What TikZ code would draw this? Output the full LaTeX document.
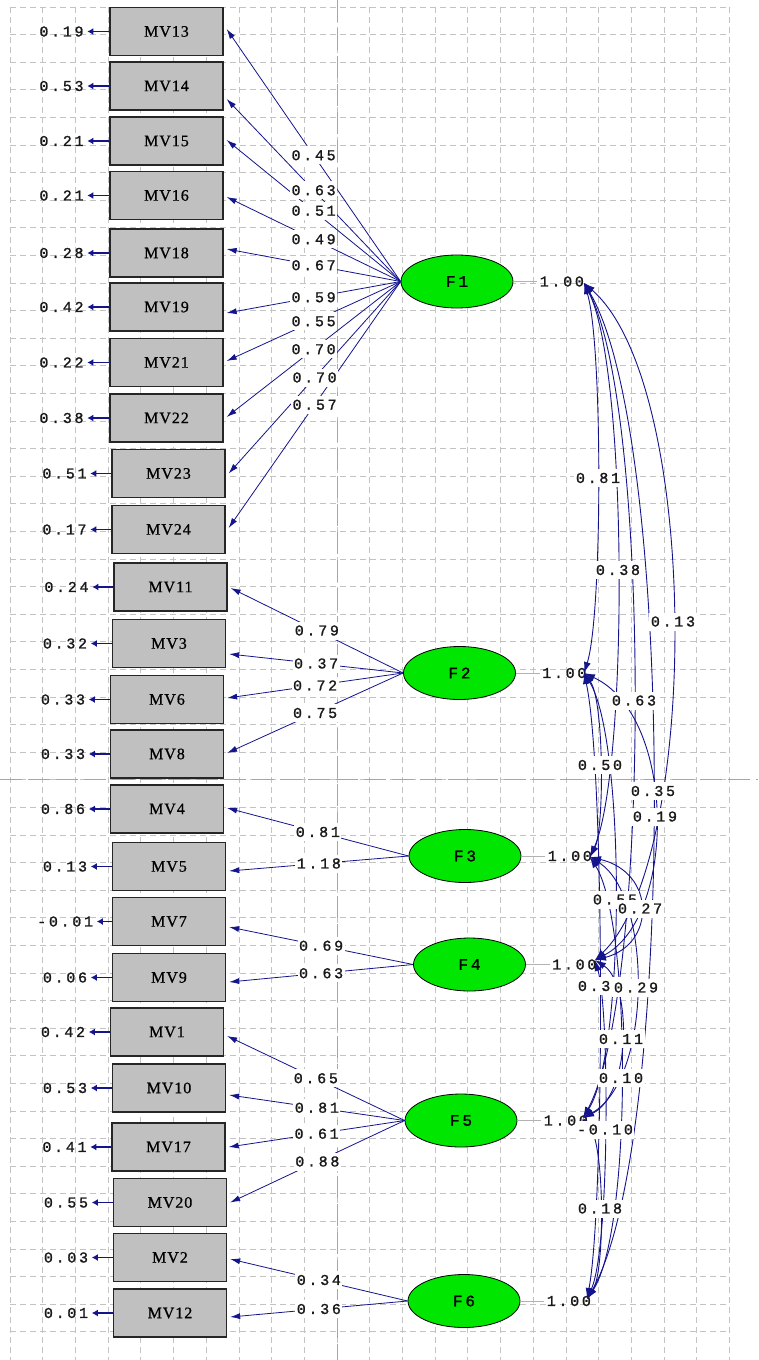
\documentclass[tikz,border=0pt]{standalone}
\usepackage{fontspec}
\usetikzlibrary{shapes.geometric,arrows.meta}
\newfontfamily\numf[LetterSpace=18,FakeBold=1.2]{Liberation Mono}
\newfontfamily\mvf[LetterSpace=6,FakeBold=0.8]{Liberation Serif}
\definecolor{navy}{RGB}{20,20,140}
\definecolor{gridc}{RGB}{195,195,195}
\definecolor{boxgray}{RGB}{192,192,192}
\definecolor{fgreen}{RGB}{0,230,0}
\begin{document}
\begin{tikzpicture}[x=1pt,y=-1pt,
 gridline/.style={gridc, line width=0.8pt, dash pattern=on 6pt off 4pt},
 pageline/.style={black!35, line width=0.8pt, dash pattern=on 22pt off 6pt},
 mv/.style={draw=black!85, line width=1.3pt, fill=boxgray, minimum width=113pt, minimum height=48pt, inner sep=0pt, font=\mvf\fontsize{16}{16}\selectfont},
 lat/.style={ellipse, draw=black, line width=0.8pt, fill=fgreen, minimum width=112pt, minimum height=53pt, inner sep=0pt, font=\numf\fontsize{16}{16}\selectfont},
 load/.style={navy, line width=0.8pt, -{Latex[length=10pt,width=6pt]}},
 err/.style={navy, line width=1.6pt, -{Latex[length=6pt,width=7pt]}},
 cov/.style={navy, line width=0.9pt, {Latex[length=11pt,width=7pt]}-{Latex[length=11pt,width=7pt]}},
 num/.style={font=\numf\fontsize{15}{15}\selectfont, text=black!90},
 lab/.style={num, fill=white, inner xsep=1.5pt, inner ysep=0pt, minimum height=18pt},
 varline/.style={black!30, line width=0.8pt},
]
\useasboundingbox[fill=white] (0,0) rectangle (758,1360);
% grid
\foreach \i in {0,...,22} \draw[gridline] ({10+32.7*\i},7) -- ({10+32.7*\i},1360);
\foreach \j in {0,...,48} \draw[gridline] (10,{7+27.6*\j}) -- (730,{7+27.6*\j});
\draw[pageline] (337,0) -- (337,1360);
\draw[pageline] (0,779) -- (758,779);

% observed variables
\node[mv] (mv13) at (166.5,31.5) {MV13};
\node[mv] (mv14) at (166.5,86) {MV14};
\node[mv] (mv15) at (166.5,141) {MV15};
\node[mv] (mv16) at (166.5,195.5) {MV16};
\node[mv] (mv18) at (166.5,253) {MV18};
\node[mv] (mv19) at (166.5,307) {MV19};
\node[mv] (mv21) at (166.5,362.5) {MV21};
\node[mv] (mv22) at (166.5,418) {MV22};
\node[mv] (mv23) at (168.5,473.5) {MV23};
\node[mv] (mv24) at (168.5,529.5) {MV24};
\node[mv] (mv11) at (170.5,587) {MV11};
\node[mv] (mv3) at (169,643.5) {MV3};
\node[mv] (mv6) at (167,699.5) {MV6};
\node[mv] (mv8) at (167,754) {MV8};
\node[mv] (mv4) at (167,809) {MV4};
\node[mv] (mv5) at (169,866.5) {MV5};
\node[mv] (mv7) at (169,921.5) {MV7};
\node[mv] (mv9) at (169,977.5) {MV9};
\node[mv] (mv1) at (167,1032) {MV1};
\node[mv] (mv10) at (169,1088) {MV10};
\node[mv] (mv17) at (168.5,1147) {MV17};
\node[mv] (mv20) at (170,1202.5) {MV20};
\node[mv] (mv2) at (170,1257.5) {MV2};
\node[mv] (mv12) at (170,1313) {MV12};

% latent variables
\node[lat] (f1) at (457,281.5) {F1};
\node[lat] (f2) at (459.5,673) {F2};
\node[lat] (f3) at (465,856) {F3};
\node[lat] (f4) at (469.5,964.5) {F4};
\node[lat] (f5) at (461,1120.5) {F5};
\node[lat] (f6) at (464,1301) {F6};

% error variances
\foreach \m/\v/\len in {mv13/0.19/22, mv14/0.53/22, mv15/0.21/22, mv16/0.21/22, mv18/0.28/22, mv19/0.42/22, mv21/0.22/22, mv22/0.38/22, mv23/0.51/21, mv24/0.17/21, mv11/0.24/21, mv3/0.32/21, mv6/0.33/21, mv8/0.33/21, mv4/0.86/21, mv5/0.13/21, mv7/-0.01/15, mv9/0.06/21, mv1/0.42/21, mv10/0.53/21, mv17/0.41/21, mv20/0.55/21, mv2/0.03/21, mv12/0.01/21}
  \draw[err] (\m.west) -- ++(-\len,0) node[num, anchor=east, inner sep=3pt] {\v};

% loadings
\def\loadlist{f1/mv13/2.5/0.45, f1/mv14/-13/0.63, f1/mv15/1/0.51, f1/mv16/-1.5/0.49, f1/mv18/4/0.67, f1/mv19/-6/0.59, f1/mv21/1.5/0.55, f1/mv22/1/0.70, f1/mv23/0/0.70, f1/mv24/1.5/0.57, f2/mv11/-1/0.79, f2/mv3/-10.5/0.37, f2/mv6/1.5/0.72, f2/mv8/1/0.75, f3/mv4/1/0.81, f3/mv5/-4.5/1.18, f4/mv7/-5.5/0.69, f4/mv9/-4.5/0.63, f5/mv1/-4/0.65, f5/mv10/-7/0.81, f5/mv17/0/0.61, f5/mv20/0/0.88, f6/mv2/-1.5/0.34, f6/mv12/-4/0.36}
\foreach \f/\m/\dy/\v in \loadlist
  \draw[load] (\f.west) -- coordinate[midway] (l\m) ([xshift=3,yshift=\dy]\m.east);

% variances of factors
\foreach \f in {f1,f2,f3,f4,f5,f6}
  \draw[varline] (\f.east) -- ++(24,0) node[num, anchor=west, inner sep=2pt] {1.00};

\coordinate (e1) at (584,283);
\coordinate (e2) at (584,673);
\coordinate (e3) at (590,857);
\coordinate (e4) at (595,960);
\coordinate (e5) at (583,1118);
\coordinate (e6) at (587,1299);

% covariances
\draw[cov] (e1) .. controls (602.7,341.5) and (602.7,614.5) .. coordinate[pos=0.5] (m12) (e2);
\draw[cov] (e1) .. controls (628.3,369.1) and (628.3,770.9) .. coordinate[pos=0.5] (m13) (e3);
\draw[cov] (e1) .. controls (700.8,384.6) and (700.8,858.4) .. coordinate[pos=0.5] (m14) (e4);
\draw[cov] (e1) .. controls (650.8,408.3) and (650.8,992.7) .. coordinate[pos=0.5] (m15) (e5);
\draw[cov] (e1) .. controls (675.5,435.4) and (675.5,1146.6) .. coordinate[pos=0.5] (m16) (e6);
\draw[cov] (e2) .. controls (604.3,700.6) and (604.3,829.4) .. coordinate[pos=0.5] (m23) (e3);
\draw[cov] (e2) .. controls (676.8,716) and (676.8,917) .. coordinate[pos=0.5] (m24) (e4);
\draw[cov] (e2) .. controls (625.5,739.8) and (625.5,1051.2) .. coordinate[pos=0.5] (m25) (e5);
\draw[cov] (e2) .. controls (604.8,766.9) and (604.8,1205.1) .. coordinate[pos=0.5] (m26) (e6);
\draw[cov] (e3) .. controls (655.9,872.5) and (655.9,944.5) .. coordinate[pos=0.5] (m34) (e4);
\draw[cov] (e3) .. controls (652.5,896.2) and (652.5,1078.8) .. coordinate[pos=0.5] (m35) (e5);
\draw[cov] (e3) .. controls (631.9,923.3) and (631.9,1232.7) .. coordinate[pos=0.5] (m36) (e6);
\draw[cov] (e4) .. controls (631.7,983.7) and (631.7,1094.3) .. coordinate[pos=0.5] (m45) (e5);
\draw[cov] (e4) .. controls (609.7,1010.9) and (609.7,1248.1) .. coordinate[pos=0.5] (m46) (e6);
\draw[cov] (e5) .. controls (605,1145.2) and (605,1271.8) .. coordinate[pos=0.5] (m56) (e6);

% loading labels
\foreach \f/\m/\dy/\v in \loadlist
  \node[lab] at (l\m) {\v};

% covariance labels
\foreach \c/\v in {m12/0.81, m13/0.38, m14/0.13, m15/0.63, m16/0.35, m23/0.50, m24/0.19}
  \node[lab] at (\c) {\v};
\node[lab, yshift=-4pt] at (m25) {0.55};
\foreach \c/\v in {m26/0.30, m34/0.27, m35/0.29, m36/0.10, m45/0.11, m46/-0.10, m56/0.18}
  \node[lab] at (\c) {\v};
\end{tikzpicture}
\end{document}
